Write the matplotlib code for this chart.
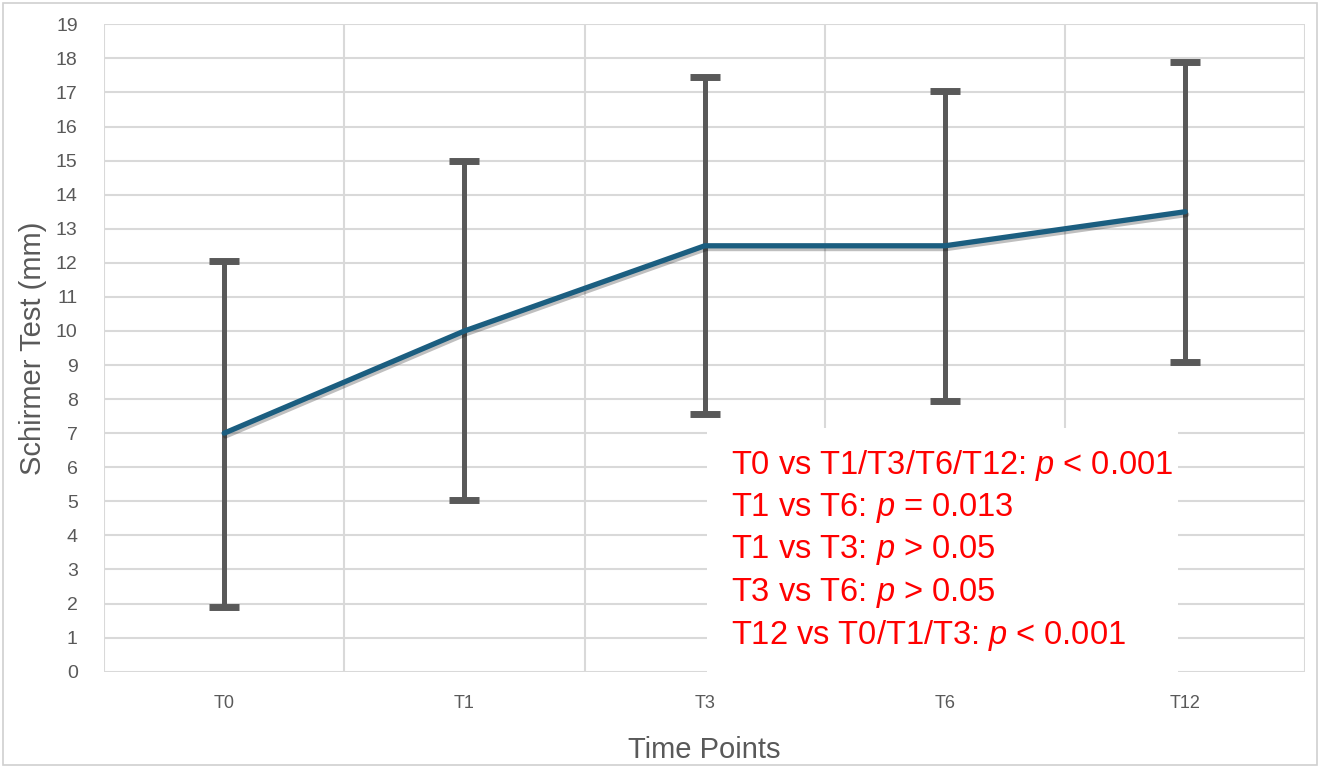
import matplotlib
matplotlib.use("Agg")
import matplotlib.pyplot as plt
import matplotlib.patheffects as pe
from matplotlib.patches import Rectangle

plt.rcParams['font.family'] = ['Liberation Sans', 'DejaVu Sans']
plt.rcParams['mathtext.fontset'] = 'custom'
plt.rcParams['mathtext.it'] = 'Liberation Sans:italic'
plt.rcParams['mathtext.rm'] = 'Liberation Sans'

# data
time_points = ['T0', 'T1', 'T3', 'T6', 'T12']
schirmer_mean = [7.0, 10.0, 12.5, 12.5, 13.5]
err_low = [1.9, 5.05, 7.55, 7.95, 9.1]
err_high = [12.05, 15.0, 17.45, 17.05, 17.88]
stats_lines = [
    'T0 vs T1/T3/T6/T12: $p$ < 0.001',
    'T1 vs T6: $p$ = 0.013',
    'T1 vs T3: $p$ > 0.05',
    'T3 vs T6: $p$ > 0.05',
    'T12 vs T0/T1/T3: $p$ < 0.001',
]

grid_c = '#d9d9d9'
text_c = '#595959'

fig = plt.figure(figsize=(13.22, 7.7), dpi=100)
ax = fig.add_axes([0.0787, 0.1277, 0.9087, 0.8407])

x = list(range(len(time_points)))
lower = [m - lo for m, lo in zip(schirmer_mean, err_low)]
upper = [hi - m for m, hi in zip(schirmer_mean, err_high)]

ax.errorbar(x, schirmer_mean, yerr=[lower, upper], fmt='none', ecolor='#595959',
            elinewidth=3.6, capsize=11, capthick=5, zorder=3)
ax.plot(x, schirmer_mean, color='#1b5e80', lw=3.8, solid_capstyle='round', zorder=4,
        path_effects=[pe.SimpleLineShadow(offset=(1, -2), alpha=0.25, shadow_color='black'),
                      pe.Normal()])

ax.set_xlim(-0.5, len(time_points) - 0.5)
ax.set_ylim(0, 19)
ax.set_yticks(range(0, 20))
ax.set_xticks(x)
ax.set_xticklabels(time_points)
ax.set_xticks([i - 0.5 for i in range(len(time_points) + 1)], minor=True)
ax.grid(True, which='major', axis='y', color=grid_c, lw=1.5)
ax.grid(True, which='minor', axis='x', color=grid_c, lw=1.5)
ax.set_axisbelow(True)
ax.tick_params(axis='both', which='both', length=0)
ax.tick_params(axis='y', labelsize=14, labelcolor=text_c, pad=19)
ax.tick_params(axis='x', labelsize=13, labelcolor=text_c, pad=17)
for s in ax.spines.values():
    s.set_visible(False)

ax.set_ylabel('Schirmer Test (mm)', fontsize=21, color=text_c, labelpad=6)
ax.set_xlabel('Time Points', fontsize=21, color=text_c, labelpad=17)

# white box with the stats
ax.add_patch(Rectangle((0.502, 0.0), 0.392, 0.376, transform=ax.transAxes,
                       facecolor='white', edgecolor='none', zorder=5))
for i, line in enumerate(stats_lines):
    ax.text(0.5218, 0.318 - i * 0.0654, line, transform=ax.transAxes, color='red',
            fontsize=23.5, va='center', ha='left', zorder=6)

# outer frame of the chart
fig.patches.append(Rectangle((0.002, 0.006), 0.994, 0.99, transform=fig.transFigure,
                             facecolor='none', edgecolor='#d0d0d0', lw=1.2))

fig.savefig('out.png', dpi=100)
